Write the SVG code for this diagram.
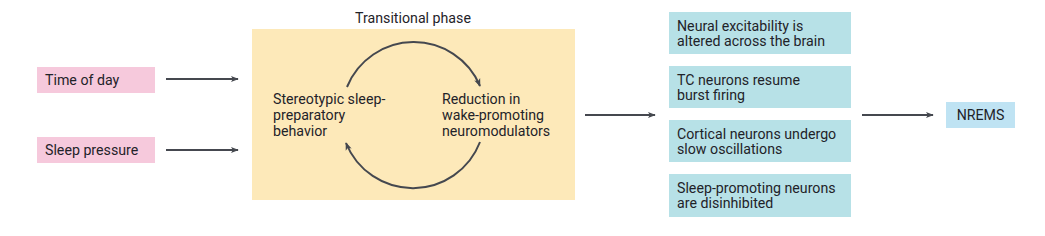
<svg xmlns="http://www.w3.org/2000/svg" width="1045" height="236" viewBox="0 0 1045 236">
<defs>
<marker id="ah" viewBox="0 0 10 10" refX="9" refY="5" markerWidth="8" markerHeight="8" markerUnits="userSpaceOnUse" orient="auto">
<path d="M0,1 L10,5 L0,9 L2.5,5 Z" fill="#45484f"/>
</marker>
<style>
text{font-family:Roboto,"Liberation Sans",sans-serif;font-size:14.2px;fill:#1f2329}
.pink{fill:#f6c9dc}
.blue{fill:#b7e1e7}
.nrems{fill:#bfe3f3}
.yel{fill:#fde9b9}
.ln{stroke:#45484f;stroke-width:2;fill:none;marker-end:url(#ah)}
</style>
</defs>
<rect width="1045" height="236" fill="#ffffff"/>
<g id="time-of-day"><rect class="pink" x="37" y="67" width="118" height="26"/><text x="45" y="85">Time of day</text></g>
<g id="sleep-pressure"><rect class="pink" x="37" y="137" width="118" height="26"/><text x="45" y="155">Sleep pressure</text></g>
<g id="transitional-phase">
<text x="413" y="23" text-anchor="middle">Transitional phase</text>
<rect class="yel" x="252" y="29" width="323" height="171"/>
<text x="273" y="104">Stereotypic sleep-</text>
<text x="273" y="120">preparatory</text>
<text x="273" y="136">behavior</text>
<text x="442" y="104">Reduction in</text>
<text x="442" y="120">wake-promoting</text>
<text x="442" y="136">neuromodulators</text>
</g>
<g id="outcome-1"><rect class="blue" x="669" y="12" width="182" height="42"/><text x="677" y="31">Neural excitability is</text><text x="677" y="46">altered across the brain</text></g>
<g id="outcome-2"><rect class="blue" x="669" y="66" width="182" height="42"/><text x="677" y="85">TC neurons resume</text><text x="677" y="100">burst firing</text></g>
<g id="outcome-3"><rect class="blue" x="669" y="120" width="182" height="42"/><text x="677" y="139">Cortical neurons undergo</text><text x="677" y="154">slow oscillations</text></g>
<g id="outcome-4"><rect class="blue" x="669" y="174" width="182" height="43"/><text x="677" y="193">Sleep-promoting neurons</text><text x="677" y="208">are disinhibited</text></g>
<g id="nrems"><rect class="nrems" x="946" y="102" width="69" height="26"/><text x="980.5" y="120" text-anchor="middle">NREMS</text></g>
<g id="connectors">
<line class="ln" x1="166" y1="79" x2="238" y2="79"/>
<line class="ln" x1="166" y1="150" x2="238" y2="150"/>
<line class="ln" x1="585" y1="115" x2="655" y2="115"/>
<line class="ln" x1="862" y1="115" x2="933" y2="115"/>
<path class="ln" d="M347,87 A72,72 0 0 1 480,86"/>
<path class="ln" d="M480,142 A72,72 0 0 1 346,143"/>
</g>
</svg>
